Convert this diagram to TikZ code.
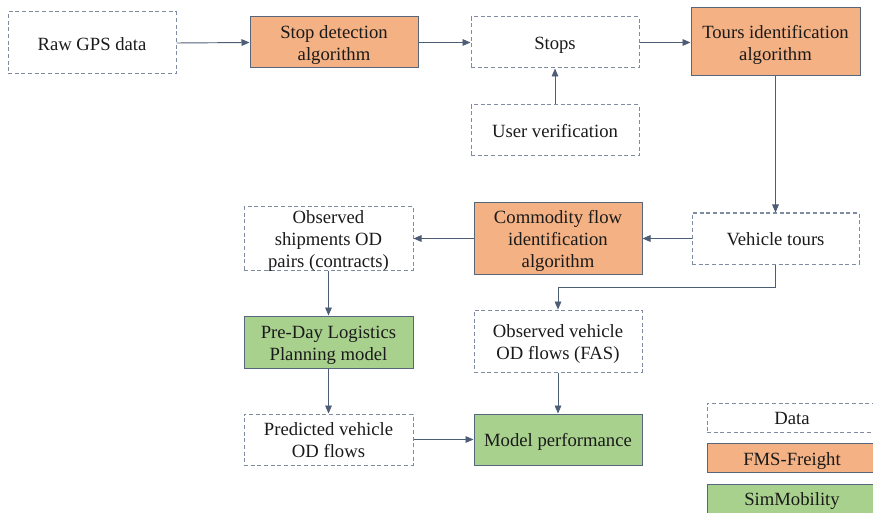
\documentclass[tikz,border=0pt]{standalone}
\usepackage{fontspec}
\setmainfont{Liberation Serif}
\usetikzlibrary{arrows.meta}
\definecolor{orangefill}{HTML}{F4B183}
\definecolor{greenfill}{HTML}{A9D18E}
\definecolor{dashcol}{HTML}{7F8BA0}
\definecolor{solidcol}{HTML}{56667E}
\definecolor{arrowcol}{HTML}{4E5D76}
\definecolor{txtcol}{HTML}{1A1A1A}
\newcommand{\mytop}{\rule{0pt}{0.97em}}
\newcommand{\mybot}{\rule[-0.216em]{0pt}{0.216em}}
\tikzset{
  base/.style={rectangle, inner sep=0pt, align=center, text=txtcol,
    font=\fontsize{14}{16.5}\selectfont, line width=0.75pt},
  databox/.style={base, draw=dashcol, dash pattern=on 3pt off 2pt},
  fmsbox/.style={base, draw=solidcol, fill=orangefill},
  simbox/.style={base, draw=solidcol, fill=greenfill},
  plaintext/.style={base, draw=none},
  conn/.style={draw=arrowcol, line width=0.7pt, -{Triangle[length=6pt,width=5pt]}},
  sz/.style n args={2}{minimum width=#1*0.75pt, minimum height=#2*0.75pt}
}
\begin{document}
\begin{tikzpicture}[x=0.75pt,y=-0.75pt]
\useasboundingbox (0,0) rectangle (873,513);
\clip (0,0) rectangle (873,513);
% top row
\node[databox, sz={168}{62}] (raw) at (92,43) {\mytop Raw GPS data\mybot};
\node[fmsbox, sz={168}{51}] (stopdet) at (334,42.5) {\mytop Stop detection\\algorithm\mybot};
\node[databox, sz={168}{51}] (stops) at (555,42.5) {\mytop Stops\mybot};
\node[fmsbox, sz={169}{68}] (tours) at (775.5,42) {\mytop Tours identification\\algorithm\mybot};
\node[databox, sz={168}{51}] (userv) at (555,130.5) {\mytop User verification\mybot};
% middle row
\node[databox, sz={167}{51}] (vtours) at (775.5,238.5) {\mytop Vehicle tours\mybot};
\node[fmsbox, sz={168}{71}] (commod) at (558,238.5) {\mytop Commodity flow\\identification\\algorithm\mybot};
\node[databox, sz={169}{63}] (obsship) at (328.5,238.5) {};
\node[plaintext] (obsshipT) at (obsship.center) {\mytop Observed\\shipments OD\\pairs (contracts)\mybot};
% lower rows
\node[simbox, sz={169}{52}] (preday) at (328.5,342) {\mytop Pre-Day Logistics\\Planning model\mybot};
\node[databox, sz={168}{62}] (obsveh) at (558,341) {\mytop Observed vehicle\\OD flows (FAS)\mybot};
\node[databox, sz={169}{51}] (pred) at (328.5,439.5) {\mytop Predicted vehicle\\OD flows\mybot};
\node[simbox, sz={168}{51}] (modelp) at (558,439.5) {\mytop Model performance\mybot};
% legend
\node[databox, sz={170}{29}] (legdata) at (792,417.5) {\mytop Data\mybot};
\node[fmsbox, sz={170}{29}] (legfms) at (792,458) {\mytop FMS-Freight\mybot};
\node[simbox, sz={170}{29}] (legsim) at (792,498.5) {\mytop SimMobility\mybot};
% connectors
\draw[conn] (raw.east) -- (stopdet.west);
\draw[conn] (stopdet.east) -- (stops.west);
\draw[conn] (stops.east) -- (tours.west |- stops.east);
\draw[conn] (userv.north) -- (stops.south);
\draw[conn] (tours.south) -- (vtours.north);
\draw[conn] (vtours.west) -- (commod.east);
\draw[conn] (commod.west) -- (obsship.east);
\draw[conn] (obsship.south) -- (preday.north);
\draw[conn] (preday.south) -- (pred.north);
\coordinate (bend) at (775.5,287);
\draw[conn] (vtours.south) -- (bend) -| (obsveh.north);
\draw[conn] (obsveh.south) -- (modelp.north);
\draw[conn] (pred.east) -- (modelp.west);
\end{tikzpicture}
\end{document}
